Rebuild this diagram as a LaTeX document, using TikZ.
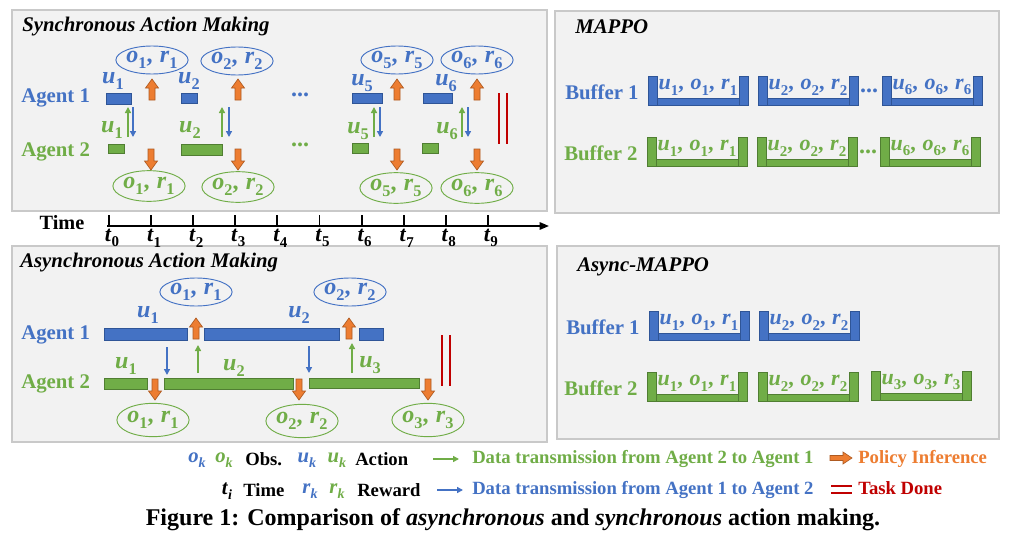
\documentclass[tikz,border=0pt]{standalone}
\usepackage{fontspec}
\setmainfont{Liberation Serif}
\usetikzlibrary{arrows.meta,shapes.geometric}
\definecolor{bfill}{HTML}{4472C4}
\definecolor{bline}{HTML}{2F5597}
\definecolor{gfill}{HTML}{70AD47}
\definecolor{gline}{HTML}{507E32}
\definecolor{ofill}{HTML}{ED7D31}
\definecolor{oline}{HTML}{AE5A21}
\definecolor{rdone}{HTML}{C00000}
\definecolor{pfill}{HTML}{F2F2F2}
\definecolor{pline}{HTML}{C9C9C9}
\newcommand{\mysym}[2]{\textbf{\textit{#1}}\raisebox{-0.26em}{\scalebox{0.68}{\textbf{#2}}}}
\newcommand{\mycm}{\textbf{,}\hspace{0.3em}}
\newcommand{\mybucket}[5]{%
  \draw[fill=#4fill, draw=#4line, line width=0.5pt] (#2,#3+22) rectangle ++(100,7);
  \draw[fill=#4fill, draw=#4line, line width=0.5pt] (#2,#3) rectangle ++(9,29);
  \draw[fill=#4fill, draw=#4line, line width=0.5pt] (#2+91,#3) rectangle ++(9,29);
  \node[bktxt, text=#4fill] (#1) at (#2+50,#3+11) {#5};}
\begin{document}
\begin{tikzpicture}[x=0.75pt,y=-0.75pt,
  panel/.style={draw=pline, fill=pfill, line width=0.8pt},
  ttl/.style={font=\fontsize{15.6}{18}\selectfont\bfseries\itshape, anchor=west, inner sep=0},
  agent/.style={font=\fontsize{15.6}{18}\selectfont\bfseries, anchor=west, inner sep=0},
  mth/.style={font=\fontsize{18}{20}\selectfont, inner sep=0},
  bktxt/.style={font=\fontsize{16.5}{18}\selectfont, inner sep=0},
  bell/.style={ellipse, draw=bfill, line width=0.7pt, minimum width=46.5pt, minimum height=21pt, inner sep=0, text=bfill, font=\fontsize{18}{20}\selectfont},
  gell/.style={ellipse, draw=gfill, line width=0.7pt, minimum width=46.5pt, minimum height=23pt, inner sep=0, text=gfill, font=\fontsize{18}{20}\selectfont},
  bbar/.style={fill=bfill, draw=bline, line width=0.5pt},
  gbar/.style={fill=gfill, draw=gline, line width=0.5pt},
  oarr/.style={fill=ofill, draw=oline, line width=0.5pt},
  barr/.style={draw=bfill, line width=1.1pt, -{Triangle[length=4.5pt,width=4.5pt]}},
  garr/.style={draw=gfill, line width=1.1pt, -{Triangle[length=4.5pt,width=4.5pt]}},
  done/.style={draw=rdone, line width=2.2pt},
  leg/.style={font=\fontsize{14}{16}\selectfont\bfseries, anchor=west, inner sep=0},
  legm/.style={font=\fontsize{15.5}{16}\selectfont, inner sep=0},
  oup/.pic={\draw[oarr] (-3,0) -- (-3,-12) -- (-6.5,-12) -- (0,-21) -- (6.5,-12) -- (3,-12) -- (3,0) -- cycle;},
  odown/.pic={\draw[oarr] (-3,0) -- (-3,12) -- (-6.5,12) -- (0,21) -- (6.5,12) -- (3,12) -- (3,0) -- cycle;},
  oright/.pic={\draw[oarr] (0,-2.5) -- (13,-2.5) -- (13,-6) -- (22,0) -- (13,6) -- (13,2.5) -- (0,2.5) -- cycle;}
]
\useasboundingbox (0,0) rectangle (1010,539);
\fill[white] (0,0) rectangle (1010,539);

% ---------- panels ----------
\draw[panel] (12,10) rectangle (547,211);
\draw[panel] (555,11) rectangle (999,213);
\draw[panel] (12,246) rectangle (547,442);
\draw[panel] (557,246) rectangle (999,439);

\node[ttl] (tsync) at (22,27) {Synchronous Action Making};
\node[ttl] (tmappo) at (575,27) {MAPPO};
\node[ttl] (tasync) at (20,263) {Asynchronous Action Making};
\node[ttl] (tamappo) at (577,267) {Async-MAPPO};

% ---------- synchronous ----------
\node[agent, text=bfill] (sa1) at (21,98) {Agent 1};
\node[agent, text=gfill] (sa2) at (21,152) {Agent 2};

\draw[bbar] (106,93) rectangle (131,104);
\draw[bbar] (181,93) rectangle (197,103);
\draw[bbar] (352,93) rectangle (382,103);
\draw[bbar] (423,93) rectangle (452,103);
\node[mth, text=bfill] (su1b) at (113,81) {\mysym{u}{1}};
\node[mth, text=bfill] (su2b) at (189,81) {\mysym{u}{2}};
\node[mth, text=bfill] (su5b) at (362,83) {\mysym{u}{5}};
\node[mth, text=bfill] (su6b) at (446,83) {\mysym{u}{6}};

\draw[gbar] (108,144) rectangle (124,153);
\draw[gbar] (181,144) rectangle (222,155);
\draw[gbar] (352,143) rectangle (368,153);
\draw[gbar] (422,143) rectangle (438,153);
\node[mth, text=gfill] (su1g) at (112,130) {\mysym{u}{1}};
\node[mth, text=gfill] (su2g) at (190,130) {\mysym{u}{2}};
\node[mth, text=gfill] (su5g) at (358,131) {\mysym{u}{5}};
\node[mth, text=gfill] (su6g) at (447,131) {\mysym{u}{6}};

\node[mth, text=bfill] (sdotb) at (300,95) {\textbf{...}};
\node[mth, text=gfill] (sdotg) at (300,145) {\textbf{...}};

\node[bell] (so1b) at (152,60) {\mysym{o}{1}\mycm\mysym{r}{1}};
\node[bell] (so2b) at (237,61) {\mysym{o}{2}\mycm\mysym{r}{2}};
\node[bell] (so5b) at (397,60) {\mysym{o}{5}\mycm\mysym{r}{5}};
\node[bell] (so6b) at (477,60) {\mysym{o}{6}\mycm\mysym{r}{6}};
\node[gell] (so1g) at (149,186) {\mysym{o}{1}\mycm\mysym{r}{1}};
\node[gell] (so2g) at (238,187) {\mysym{o}{2}\mycm\mysym{r}{2}};
\node[gell] (so5g) at (396,188) {\mysym{o}{5}\mycm\mysym{r}{5}};
\node[gell] (so6g) at (477,188) {\mysym{o}{6}\mycm\mysym{r}{6}};

\foreach \x in {152,238,397,477} \pic at (\x,100) {oup};
\foreach \x in {151,238,397,477} \pic at (\x,149) {odown};

\foreach \g/\b in {128/133,222/229,374/380,462/468}{
  \draw[garr] (\g,137) -- (\g,107);
  \draw[barr] (\b,107) -- (\b,137);
}
\draw[done] (499,93) -- (499,144);
\draw[done] (507,93) -- (507,144);

% ---------- time axis ----------
\node[font=\fontsize{15.2}{18}\selectfont\bfseries, inner sep=0] (time) at (62,223) {Time};
\coordinate (ax0) at (107,226);
\coordinate (ax1) at (549,226);
\draw[line width=1.4pt, -{Triangle[length=7pt,width=5.5pt]}] (ax0) -- (ax1);
\foreach \i in {0,...,9}{
  \draw[line width=1.4pt] (109+42.1*\i,215) -- (109+42.1*\i,226);
  \node[font=\fontsize{16.5}{18}\selectfont, inner sep=0] (t\i) at (112+42.1*\i,238) {\mysym{t}{\i}};
}

% ---------- asynchronous ----------
\node[agent, text=bfill] (aa1) at (21,335) {Agent 1};
\node[agent, text=gfill] (aa2) at (21,384) {Agent 2};

\draw[bbar] (104,328) rectangle (187,340);
\draw[bbar] (204,328) rectangle (339,340);
\draw[bbar] (359,328) rectangle (383,340);
\node[mth, text=bfill] (au1b) at (148,315) {\mysym{u}{1}};
\node[mth, text=bfill] (au2b) at (299,315) {\mysym{u}{2}};

\draw[gbar] (104,378) rectangle (147,389);
\draw[gbar] (164,378) rectangle (293,389);
\draw[gbar] (309,378) rectangle (419,388);
\node[mth, text=gfill] (au1g) at (126,366) {\mysym{u}{1}};
\node[mth, text=gfill] (au2g) at (234,368) {\mysym{u}{2}};
\node[mth, text=gfill] (au3g) at (370,365) {\mysym{u}{3}};

\node[bell] (ao1b) at (196,292) {\mysym{o}{1}\mycm\mysym{r}{1}};
\node[bell] (ao2b) at (350,292) {\mysym{o}{2}\mycm\mysym{r}{2}};
\node[gell, minimum height=25pt] (ao1g) at (153,420) {\mysym{o}{1}\mycm\mysym{r}{1}};
\node[gell, minimum height=25pt] (ao2g) at (302,421) {\mysym{o}{2}\mycm\mysym{r}{2}};
\node[gell, minimum height=25pt] (ao3g) at (428,420) {\mysym{o}{3}\mycm\mysym{r}{3}};

\pic at (196,339) {oup};
\pic at (349,339) {oup};
\pic at (155,379) {odown};
\pic at (299,379) {odown};
\pic at (428,379) {odown};

\draw[barr] (167,347) -- (167,375);
\draw[barr] (309,346) -- (309,373);
\draw[garr] (198,373) -- (198,345);
\draw[garr] (352,373) -- (352,343);

\draw[done] (442,335) -- (442,386);
\draw[done] (450,335) -- (450,386);

% ---------- MAPPO buffers ----------
\node[agent, text=bfill] (mb1) at (565,92) {Buffer 1};
\node[agent, text=gfill] (mb2) at (564,153) {Buffer 2};
\mybucket{mb1a}{648}{76}{b}{\mysym{u}{1}\mycm\mysym{o}{1}\mycm\mysym{r}{1}}
\mybucket{mb1b}{758}{76}{b}{\mysym{u}{2}\mycm\mysym{o}{2}\mycm\mysym{r}{2}}
\mybucket{mb1c}{882}{76}{b}{\mysym{u}{6}\mycm\mysym{o}{6}\mycm\mysym{r}{6}}
\node[mth, text=bfill] (mdots1) at (869,91) {\textbf{...}};
\mybucket{mb2a}{647}{137}{g}{\mysym{u}{1}\mycm\mysym{o}{1}\mycm\mysym{r}{1}}
\mybucket{mb2b}{757}{137}{g}{\mysym{u}{2}\mycm\mysym{o}{2}\mycm\mysym{r}{2}}
\mybucket{mb2c}{880}{137}{g}{\mysym{u}{6}\mycm\mysym{o}{6}\mycm\mysym{r}{6}}
\node[mth, text=gfill] (mdots2) at (868,152) {\textbf{...}};

% ---------- Async-MAPPO buffers ----------
\node[agent, text=bfill] (ab1) at (566,327) {Buffer 1};
\node[agent, text=gfill] (ab2) at (564,388) {Buffer 2};
\mybucket{ab1a}{649}{311}{b}{\mysym{u}{1}\mycm\mysym{o}{1}\mycm\mysym{r}{1}}
\mybucket{ab1b}{759}{311}{b}{\mysym{u}{2}\mycm\mysym{o}{2}\mycm\mysym{r}{2}}
\mybucket{ab2a}{647}{372}{g}{\mysym{u}{1}\mycm\mysym{o}{1}\mycm\mysym{r}{1}}
\mybucket{ab2b}{758}{372}{g}{\mysym{u}{2}\mycm\mysym{o}{2}\mycm\mysym{r}{2}}
\mybucket{ab2c}{871}{371}{g}{\mysym{u}{3}\mycm\mysym{o}{3}\mycm\mysym{r}{3}}

% ---------- legend ----------
\node[legm, text=bfill] (lob) at (197,460) {\mysym{o}{\textit{k}}};
\node[legm, text=gfill] (log) at (224,460) {\mysym{o}{\textit{k}}};
\node[leg] (lobs) at (245,459) {Obs.};
\node[legm, text=bfill] (lub) at (307,460) {\mysym{u}{\textit{k}}};
\node[legm, text=gfill] (lug) at (337,460) {\mysym{u}{\textit{k}}};
\node[leg] (lact) at (355,459) {Action};
\coordinate (lg0) at (433,459);
\coordinate (lg1) at (459,459);
\draw[garr] (lg0) -- (lg1);
\node[leg, text=gfill] (lgt) at (472,459) {Data transmission from Agent 2 to Agent 1};
\pic at (830,458) {oright};
\node[leg, text=ofill] (lpi) at (858,459) {Policy Inference};

\node[legm] (lti) at (227,491) {\mysym{t}{\textit{i}}};
\node[leg] (ltime) at (243,490) {Time};
\node[legm, text=bfill] (lrb) at (310,491) {\mysym{r}{\textit{k}}};
\node[legm, text=gfill] (lrg) at (337,491) {\mysym{r}{\textit{k}}};
\node[leg] (lrew) at (357,490) {Reward};
\coordinate (lb0) at (437,490);
\coordinate (lb1) at (463,490);
\draw[barr] (lb0) -- (lb1);
\node[leg, text=bfill] (lbt) at (472,490) {Data transmission from Agent 1 to Agent 2};
\draw[done, line width=1.8pt] (831,486) -- (852,486);
\draw[done, line width=1.8pt] (831,493) -- (852,493);
\node[leg, text=rdone] (ltd) at (858,488) {Task Done};

\node[font=\fontsize{18}{20}\selectfont\bfseries, inner sep=0] (cap) at (513,520) {Figure 1: Comparison of \textit{asynchronous} and \textit{synchronous} action making.};
\end{tikzpicture}
\end{document}
